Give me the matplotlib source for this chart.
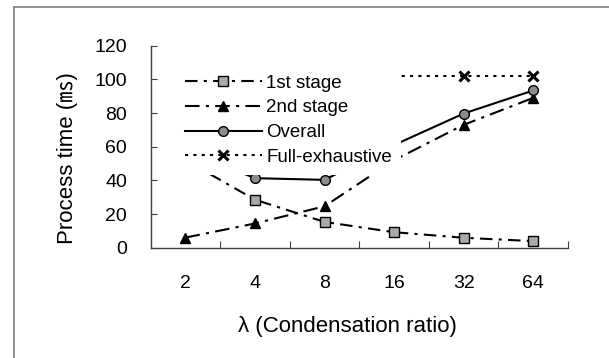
import matplotlib
matplotlib.use("Agg")
import matplotlib.pyplot as plt
from matplotlib.lines import Line2D

categories = ["2", "4", "8", "16", "32", "64"]
first_stage = [52, 28.5, 15.3, 9.2, 5.9, 3.9]
second_stage = [6, 14.4, 24.6, 52, 73, 89]
overall = [58, 41.3, 40.3, 61, 79.7, 93.4]
full_exhaustive = [102, 102, 102, 102, 102, 102]
yticks = [0, 20, 40, 60, 80, 100, 120]

W, H = 609, 358
fig = plt.figure(figsize=(W / 100, H / 100), dpi=100)
fig.patch.set_facecolor("white")

font = ["Liberation Sans", "DejaVu Sans"]
plt.rcParams["font.family"] = font

ax = fig.add_axes([150.7 / W, 1 - 247.7 / H, (568 - 150.7) / W, (247.7 - 45.7) / H])
x = list(range(len(categories)))

lw = 1.5
l1, = ax.plot(x, first_stage, color="black", lw=lw, marker="s", ms=7,
              mfc="#a9a9a9", mec="black", mew=1.0, dashes=(6, 3, 1.5, 3),
              label="1st stage", zorder=3)
l2, = ax.plot(x, second_stage, color="black", lw=lw, marker="^", ms=7.5,
              mfc="black", mec="black", dashes=(7, 3, 1.5, 3),
              label="2nd stage", zorder=3)
l3, = ax.plot(x, overall, color="black", lw=lw, marker="o", ms=7,
              mfc="#8c8c8c", mec="black", mew=1.0, ls="-",
              label="Overall", zorder=3)
l4, = ax.plot(x, full_exhaustive, color="black", lw=lw, marker="x", ms=7,
              mew=2.2, dashes=(1.5, 2.5), label="Full-exhaustive", zorder=3)

ax.set_xlim(-0.5, len(categories) - 0.5)
ax.set_ylim(0, 120)
ax.set_yticks(yticks)
ax.set_yticklabels([str(v) for v in yticks])
ax.set_xticks(x)
ax.set_xticklabels(categories)
ax.set_xticks([i + 0.5 for i in range(len(categories))], minor=True)

for s in ["top", "right"]:
    ax.spines[s].set_visible(False)
for s in ["left", "bottom"]:
    ax.spines[s].set_color("#404040")
    ax.spines[s].set_linewidth(1.0)

ax.tick_params(axis="y", direction="in", length=4, width=0.8, color="#404040",
               labelsize=14, pad=17)
ax.tick_params(axis="x", which="major", length=0, labelsize=14, pad=20)
ax.tick_params(axis="x", which="minor", direction="in", length=5, width=0.8,
               color="#404040")

leg = ax.legend(handles=[l1, l2, l3, l4], loc="upper left",
                bbox_to_anchor=((175.3 - 150.7) / (568 - 150.7), (247.7 - 65) / 202),
                bbox_transform=ax.transAxes, frameon=True, fancybox=False,
                edgecolor="none", facecolor="white", framealpha=1,
                fontsize=13.5, handlelength=4.1, handletextpad=0.25,
                labelspacing=0.41, borderpad=0.5, borderaxespad=0, numpoints=1)
leg.set_zorder(5)

fig.text(68 / W, 1 - 158 / H, "Process time (\u33b3)", rotation=90,
         ha="center", va="center", fontsize=16,
         family=["Liberation Sans", "Noto Sans CJK JP", "DejaVu Sans"])
fig.text(347.5 / W, 1 - 326.7 / H, "\u03bb (Condensation ratio)",
         ha="center", va="center", fontsize=16,
         family=["Liberation Sans", "DejaVu Sans"])

# figure frame lines (top and left)
fig.add_artist(Line2D([13.6 / W, 1.0], [1 - 7 / H, 1 - 7 / H],
                      transform=fig.transFigure, color="#808080", lw=1.2))
fig.add_artist(Line2D([13.6 / W, 13.6 / W], [0, 1 - 7 / H],
                      transform=fig.transFigure, color="#808080", lw=1.2))

fig.savefig("out.png", dpi=100, facecolor="white")
